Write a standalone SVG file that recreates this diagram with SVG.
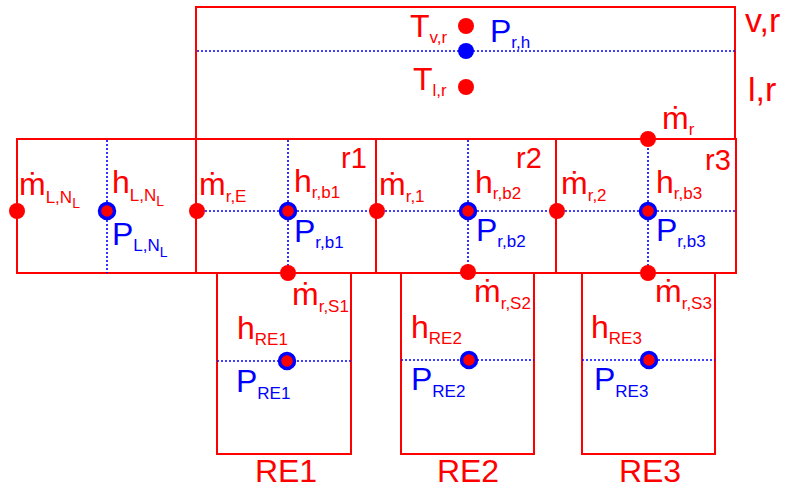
<svg xmlns="http://www.w3.org/2000/svg" width="788" height="488" viewBox="0 0 788 488">
<style>
.box{fill:none;stroke:#ff0000;stroke-width:2}
.dot{stroke:#0000ff;stroke-width:1.6;stroke-dasharray:2 2;fill:none}
.rd{fill:#ff0000}
.bd{fill:#0000ff}
.nd{fill:#ff0000;stroke:#0000ff;stroke-width:3.5}
text{font-family:"Liberation Sans",Arial,sans-serif}
.r{fill:#ff0000;font-size:32px}
.b{fill:#0000ff;font-size:32px}
.s{font-size:17px}
.ss{font-size:14px}
.cl{fill:#ff0000;font-size:29px}
.side{fill:#ff0000;font-size:34px}
.lab{fill:#ff0000;font-size:32px}
</style>
<rect width="788" height="488" fill="#fff"/>
<g id="boxes">
<rect class="box" x="196" y="7" width="539" height="132"/>
<rect class="box" x="17" y="139" width="179" height="134"/>
<rect class="box" x="196" y="139" width="180" height="134"/>
<rect class="box" x="376" y="139" width="180" height="134"/>
<rect class="box" x="556" y="139" width="180" height="134"/>
<rect class="box" x="217" y="273" width="134" height="181"/>
<rect class="box" x="401" y="273" width="133" height="181"/>
<rect class="box" x="582" y="273" width="133" height="181"/>
</g>
<g id="connectors">
<line class="dot" x1="197" y1="51" x2="735" y2="51"/>
<line class="dot" x1="107" y1="140" x2="107" y2="273"/>
<line class="dot" x1="197" y1="211" x2="736" y2="211"/>
<line class="dot" x1="288" y1="140" x2="288" y2="273"/>
<line class="dot" x1="468" y1="140" x2="468" y2="273"/>
<line class="dot" x1="648" y1="140" x2="648" y2="273"/>
<line class="dot" x1="217" y1="361" x2="351" y2="361"/>
<line class="dot" x1="401" y1="360" x2="534" y2="360"/>
<line class="dot" x1="582" y1="360" x2="715" y2="360"/>
</g>
<g id="vapour">
<circle class="rd" cx="466" cy="26" r="8"/>
<text class="r" x="410" y="37">T<tspan class="s" dy="6">v,r</tspan></text>
<circle class="bd" cx="466" cy="51" r="8"/>
<text class="b" x="490" y="42">P<tspan class="s" dy="6">r,h</tspan></text>
<text class="side" x="745" y="32">v,r</text>
</g>
<g id="liquid">
<circle class="rd" cx="466" cy="87" r="8"/>
<text class="r" x="413" y="90">T<tspan class="s" dy="6">l,r</tspan></text>
<text class="side" x="748" y="101">l,r</text>
<circle class="rd" cx="648" cy="139" r="8"/>
<text class="r" x="662" y="129">ṁ<tspan class="s" dy="6">r</tspan></text>
</g>
<g id="lcell">
<circle class="rd" cx="17" cy="211" r="8"/>
<text class="r" x="19" y="195">ṁ<tspan class="s" dy="8">L,N</tspan><tspan class="ss" dy="5">L</tspan></text>
<circle class="nd" cx="107" cy="211" r="7.5"/>
<text class="r" x="112" y="193">h<tspan class="s" dy="8">L,N</tspan><tspan class="ss" dy="5">L</tspan></text>
<text class="b" x="112" y="245">P<tspan class="s" dy="6">L,N</tspan><tspan class="ss" dy="6">L</tspan></text>
</g>
<g id="r1">
<circle class="rd" cx="197" cy="211" r="8"/>
<text class="r" x="199" y="195">ṁ<tspan class="s" dy="7">r,E</tspan></text>
<circle class="nd" cx="288" cy="211" r="7.5"/>
<text class="r" x="294" y="192">h<tspan class="s" dy="6">r,b1</tspan></text>
<text class="b" x="294" y="242">P<tspan class="s" dy="6">r,b1</tspan></text>
<text class="cl" x="341" y="168">r1</text>
<circle class="rd" cx="288" cy="273" r="8"/>
</g>
<g id="r2">
<circle class="rd" cx="377" cy="211" r="8"/>
<text class="r" x="379" y="195">ṁ<tspan class="s" dy="7">r,1</tspan></text>
<circle class="nd" cx="468" cy="211" r="7.5"/>
<text class="r" x="475" y="193">h<tspan class="s" dy="6">r,b2</tspan></text>
<text class="b" x="476" y="241">P<tspan class="s" dy="6">r,b2</tspan></text>
<text class="cl" x="516" y="168">r2</text>
<circle class="rd" cx="468" cy="272" r="8"/>
</g>
<g id="r3">
<circle class="rd" cx="557" cy="211" r="8"/>
<text class="r" x="561" y="194">ṁ<tspan class="s" dy="7">r,2</tspan></text>
<circle class="nd" cx="648" cy="211" r="7.5"/>
<text class="r" x="656" y="193">h<tspan class="s" dy="6">r,b3</tspan></text>
<text class="b" x="656" y="241">P<tspan class="s" dy="6">r,b3</tspan></text>
<text class="cl" x="705" y="170">r3</text>
<circle class="rd" cx="648" cy="273" r="8"/>
</g>
<g id="RE1">
<text class="r" x="292" y="305">ṁ<tspan class="s" dy="7">r,S1</tspan></text>
<circle class="nd" cx="287" cy="361" r="7.5"/>
<text class="r" x="237" y="339">h<tspan class="s" dy="6">RE1</tspan></text>
<text class="b" x="236" y="392">P<tspan class="s" dy="7">RE1</tspan></text>
<text class="lab" x="286" y="482" text-anchor="middle">RE1</text>
</g>
<g id="RE2">
<text class="r" x="474" y="302">ṁ<tspan class="s" dy="7">r,S2</tspan></text>
<circle class="nd" cx="469" cy="360" r="7.5"/>
<text class="r" x="411" y="338">h<tspan class="s" dy="6">RE2</tspan></text>
<text class="b" x="411" y="390">P<tspan class="s" dy="7">RE2</tspan></text>
<text class="lab" x="468" y="482" text-anchor="middle">RE2</text>
</g>
<g id="RE3">
<text class="r" x="655" y="302">ṁ<tspan class="s" dy="7">r,S3</tspan></text>
<circle class="nd" cx="649" cy="360" r="7.5"/>
<text class="r" x="591" y="338">h<tspan class="s" dy="6">RE3</tspan></text>
<text class="b" x="594" y="390">P<tspan class="s" dy="7">RE3</tspan></text>
<text class="lab" x="650" y="482" text-anchor="middle">RE3</text>
</g>
</svg>
